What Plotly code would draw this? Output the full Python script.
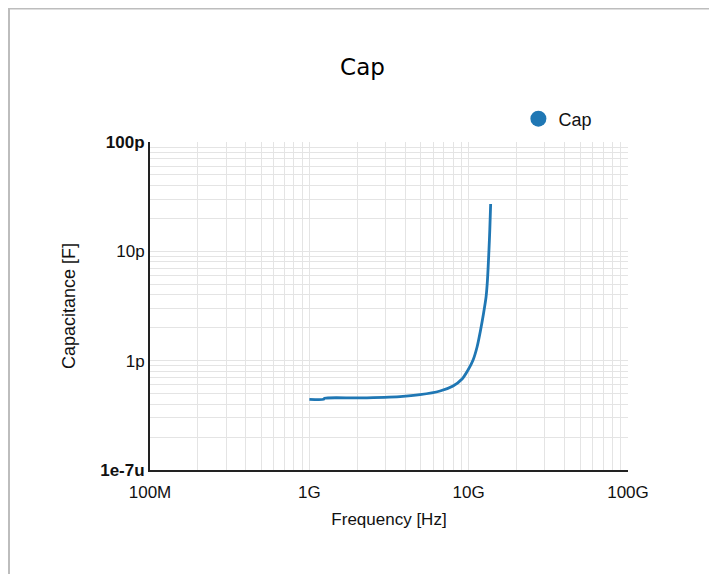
import plotly.graph_objects as go

# Data
freq_hz = [1.00e9, 1.228e9, 1.246e9, 2.08e9, 3.71e9, 4.95e9, 6.61e9, 7.98e9,
           9.09e9, 9.91e9, 10.66e9, 11.29e9, 11.88e9, 12.41e9, 12.86e9,
           13.12e9, 13.41e9, 13.57e9, 13.74e9]
cap_f = [4.43e-13, 4.43e-13, 4.53e-13, 4.56e-13, 4.69e-13, 4.88e-13, 5.28e-13,
         5.87e-13, 6.80e-13, 8.22e-13, 1.015e-12, 1.334e-12, 1.91e-12,
         2.73e-12, 3.83e-12, 5.47e-12, 1.03e-11, 1.57e-11, 2.71e-11]

x_tickvals = [1e8, 1e9, 1e10, 1e11]
x_ticktext = ["100M", "1G", "10G", "100G"]
y_tickvals = [1e-13, 1e-12, 1e-11, 1e-10]
y_ticktext = ["<b>1e-7u</b>", "1p", "10p", "<b>100p</b>"]

series_name = "Cap"
title_text = "Cap"
x_title = "Frequency [Hz]"
y_title = "Capacitance [F]"

blue = "#1f77b4"
grid = "#e4e4e4"

x_minor = [m * v for v in x_tickvals[:-1] for m in range(2, 10)]
y_minor = [m * v for v in y_tickvals[:-1] for m in range(2, 10)]

W, H = 709, 566          # page has an 8px body margin
ML, MT, MR, MB = 142, 134, 89, 104
PW = W - ML - MR          # 478
PH = H - MT - MB          # 328

fig = go.Figure()
fig.add_trace(go.Scatter(x=freq_hz, y=cap_f, mode="lines", name=series_name,
                         line=dict(color=blue, width=2.8, shape="spline", smoothing=0.8),
                         showlegend=False))
fig.add_trace(go.Scatter(x=[None], y=[None], mode="markers", name=series_name,
                         marker=dict(color=blue, size=18, symbol="circle")))

font_main = "Liberation Sans, Arial, sans-serif"

fig.update_layout(
    width=W, height=H,
    margin=dict(l=ML, r=MR, t=MT, b=MB),
    paper_bgcolor="white", plot_bgcolor="white",
    title=dict(text=title_text, x=0.5, xref="container", xanchor="center",
               y=1 - 59 / H, yref="container", yanchor="middle",
               font=dict(family="DejaVu Sans, sans-serif", size=23, color="black")),
    font=dict(family=font_main, size=17, color="#111"),
    legend=dict(x=(516 - 150) / PW + 0.005, xanchor="left", y=(470 - 119) / PH, yanchor="middle",
                font=dict(family=font_main, size=18, color="#111"),
                bgcolor="rgba(0,0,0,0)", itemwidth=30),
    shapes=[dict(type="rect", xref="paper", yref="paper",
                 x0=(1 - ML) / PW, x1=(702 - ML) / PW,
                 y0=-0.5, y1=(MT + PH - 0.5) / PH,
                 line=dict(color="#bdbdbd", width=2), layer="below")],
)

fig.update_xaxes(
    type="log", range=[8, 11],
    tickmode="array", tickvals=x_tickvals, ticktext=x_ticktext,
    showgrid=True, gridcolor=grid, gridwidth=1,
    minor=dict(tickmode="array", tickvals=x_minor, showgrid=True,
               gridcolor=grid, gridwidth=1, ticks=""),
    showline=True, linecolor="#222", linewidth=2,
    ticks="outside", ticklen=6, tickcolor="rgba(0,0,0,0)",
    tickfont=dict(family=font_main, size=17, color="#111"),
    title=dict(text=x_title, standoff=12,
               font=dict(family=font_main, size=17, color="#111")),
    zeroline=False,
)
fig.update_yaxes(
    type="log", range=[-13, -10],
    tickmode="array", tickvals=y_tickvals, ticktext=y_ticktext,
    showgrid=True, gridcolor=grid, gridwidth=1,
    minor=dict(tickmode="array", tickvals=y_minor, showgrid=True,
               gridcolor=grid, gridwidth=1, ticks=""),
    showline=True, linecolor="#222", linewidth=2,
    ticks="",
    tickfont=dict(family=font_main, size=17, color="#111"),
    title=dict(text=y_title, standoff=20,
               font=dict(family=font_main, size=18, color="#111")),
    zeroline=False,
)

fig.write_html("out.html")
